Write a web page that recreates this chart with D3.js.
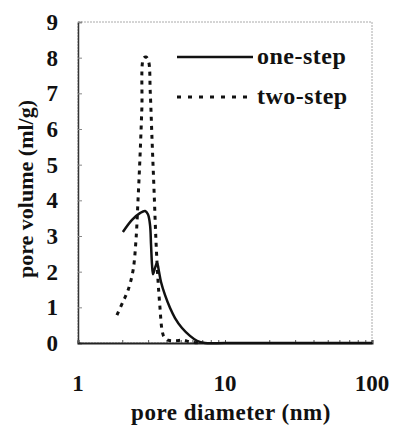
<!DOCTYPE html>
<html>
<head>
<meta charset="utf-8">
<script src="https://cdn.jsdelivr.net/npm/d3@7"></script>
<style>
  body { margin: 0; background: #fff; }
  svg text { font-family: "Liberation Serif", "Times New Roman", serif; font-weight: bold; fill: #111; }
</style>
</head>
<body>
<script>
// data
const oneStepD = [2.02, 2.33, 2.64, 2.86, 2.99, 3.09, 3.14, 3.19, 3.24, 3.34, 3.45, 3.56, 3.67, 3.91, 4.23, 4.57, 5.10, 5.78, 6.45, 7.31, 10, 20, 50, 100];
const oneStepV = [3.11, 3.45, 3.64, 3.70, 3.61, 3.31, 2.75, 2.18, 1.93, 2.10, 2.24, 1.99, 1.71, 1.34, 0.98, 0.70, 0.42, 0.20, 0.06, 0, 0, 0, 0, 0];
const twoStepD = [1.84, 2.02, 2.19, 2.37, 2.48, 2.56, 2.64, 2.72, 2.79, 2.90, 3.02, 3.10, 3.19, 3.29, 3.39, 3.50, 3.61, 3.73, 3.85, 4.10, 4.57, 5.18, 5.78, 6.76];
const twoStepV = [0.78, 1.15, 1.48, 2.04, 2.89, 4.0, 5.2, 6.6, 7.98, 8.02, 7.90, 7.05, 5.69, 4.29, 2.89, 1.76, 1.0, 0.36, 0.17, 0.08, 0.06, 0.08, 0.03, 0];
const yTicks = [0, 1, 2, 3, 4, 5, 6, 7, 8, 9];
const xTickLabels = [1, 10, 100];
const seriesNames = ["one-step", "two-step"];

const w = 393, h = 432;
const p = { t: 22, r: 21, b: 89, l: 78 };

const svg = d3.select("body").append("svg")
  .attr("width", w)
  .attr("height", h);

const x = d3.scaleLog().domain([1, 100]).range([p.l, w - p.r]);
const y = d3.scaleLinear().domain([0, 9]).range([h - p.b, p.t]);

// frame (top/right light, left/bottom dark)
svg.append("rect")
  .attr("x", p.l).attr("y", p.t)
  .attr("width", w - p.r - p.l).attr("height", h - p.b - p.t)
  .attr("fill", "none")
  .attr("stroke", "#aaa")
  .attr("stroke-width", 1)
  .attr("stroke-dasharray", "2,1");

// y axis
const yAxis = svg.append("g")
  .attr("transform", `translate(${p.l},0)`)
  .call(d3.axisRight(y).tickValues(yTicks).tickSize(4).tickFormat(""));
yAxis.select(".domain").attr("stroke", "#333").attr("stroke-width", 1.5);
yAxis.selectAll(".tick line").attr("stroke", "#888");

svg.append("g")
  .selectAll("text")
  .data(yTicks)
  .enter()
  .append("text")
  .attr("x", 58)
  .attr("y", (d) => y(d))
  .attr("dy", "0.35em")
  .attr("text-anchor", "end")
  .attr("font-size", 23)
  .text((d) => d);

// x axis
const xMinor = [];
[1, 10].forEach((b) => { for (let i = 1; i <= 9; i++) xMinor.push(b * i); });
xMinor.push(100);
const xAxis = svg.append("g")
  .attr("transform", `translate(0,${h - p.b})`)
  .call(d3.axisTop(x).tickValues(xMinor).tickSize(3).tickFormat(""));
xAxis.select(".domain").attr("stroke", "#222").attr("stroke-width", 2);
xAxis.selectAll(".tick line").attr("stroke", "#555");

svg.append("g")
  .selectAll("text")
  .data(xTickLabels)
  .enter()
  .append("text")
  .attr("x", (d) => x(d))
  .attr("y", 391)
  .attr("text-anchor", "middle")
  .attr("font-size", 23)
  .text((d) => d);

// axis titles
svg.append("text")
  .attr("x", 231)
  .attr("y", 420)
  .attr("text-anchor", "middle")
  .attr("font-size", 23)
  .attr("letter-spacing", 0.5)
  .text("pore diameter (nm)");

svg.append("text")
  .attr("transform", "translate(33,189) rotate(-90)")
  .attr("text-anchor", "middle")
  .attr("font-size", 22)
  .text("pore volume (ml/g)");

// lines
const curve = d3.line()
  .x((d) => x(d[0]))
  .y((d) => y(d[1]))
  .curve(d3.curveCatmullRom);

const twoData = twoStepD.map((d, i) => [d, twoStepV[i]]);
const oneData = oneStepD.map((d, i) => [d, oneStepV[i]]);

svg.append("path")
  .datum(twoData)
  .attr("d", curve)
  .attr("fill", "none")
  .attr("stroke", "#111")
  .attr("stroke-width", 3)
  .attr("stroke-dasharray", "4,5");

svg.append("path")
  .datum(oneData)
  .attr("d", curve)
  .attr("fill", "none")
  .attr("stroke", "#111")
  .attr("stroke-width", 2.5);

// legend
const legend = svg.append("g").attr("class", "legend");
const legendY = [57, 97];
legend.selectAll("line")
  .data(seriesNames)
  .enter()
  .append("line")
  .attr("x1", 177)
  .attr("x2", (d, i) => i === 0 ? 253 : 250)
  .attr("y1", (d, i) => legendY[i])
  .attr("y2", (d, i) => legendY[i])
  .attr("stroke", "#111")
  .attr("stroke-width", (d, i) => i === 0 ? 2.5 : 3)
  .attr("stroke-dasharray", (d, i) => i === 0 ? null : "4,7");

legend.selectAll("text")
  .data(seriesNames)
  .enter()
  .append("text")
  .attr("x", 257)
  .attr("y", (d, i) => legendY[i])
  .attr("dy", "0.3em")
  .attr("font-size", 24)
  .attr("letter-spacing", 0.5)
  .text((d) => d);
</script>
</body>
</html>
